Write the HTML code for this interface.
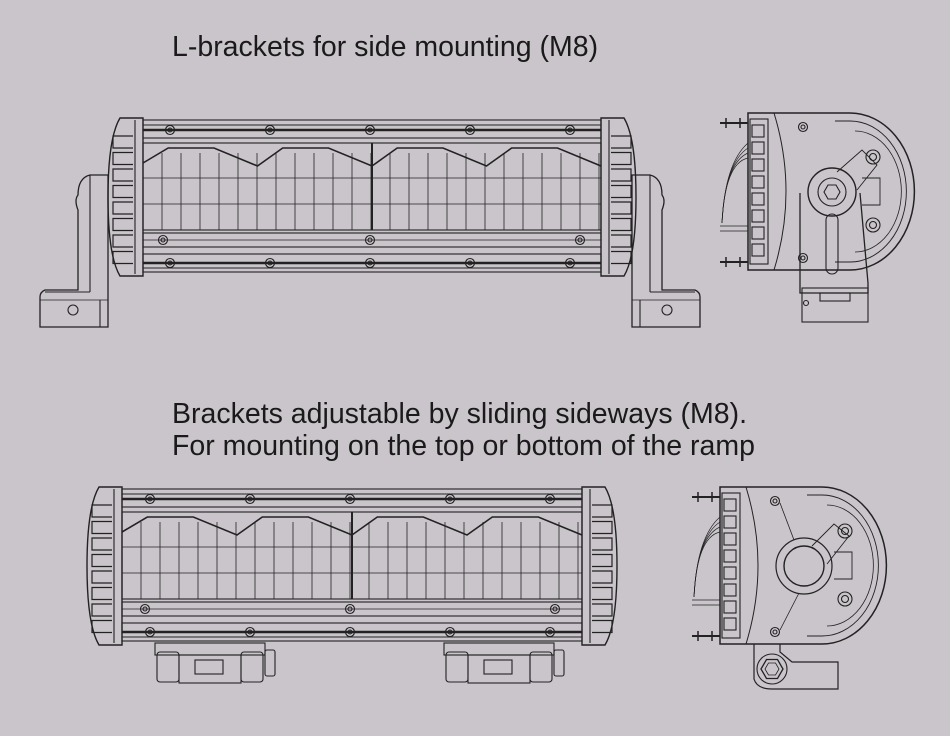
<!DOCTYPE html>
<html><head><meta charset="utf-8"><style>
html,body{margin:0;padding:0;background:#cac5ca;width:950px;height:736px;overflow:hidden}
.t{position:absolute;left:172px;font-family:"Liberation Sans",sans-serif;font-size:28.5px;color:#1a1a1a;white-space:nowrap}
svg{position:absolute;left:0;top:0}
</style></head><body>
<div class="t" style="top:31px">L-brackets for side mounting (M8)</div>
<div class="t" style="top:398px">Brackets adjustable by sliding sideways (M8).</div>
<div class="t" style="top:430px">For mounting on the top or bottom of the ramp</div>
<svg id="s" width="950" height="736" viewBox="0 0 950 736" fill="none" stroke="#222" stroke-width="1.1"></svg>
<script>
var S=document.getElementById('s'),h='';
function L(x1,y1,x2,y2,w){h+='<line x1="'+x1+'" y1="'+y1+'" x2="'+x2+'" y2="'+y2+'"'+(w?' stroke-width="'+w+'"':'')+'/>';}
function R(x,y,w,hh,r){h+='<rect x="'+x+'" y="'+y+'" width="'+w+'" height="'+hh+'"'+(r?' rx="'+r+'"':'')+'/>';}
function C(x,y,r,w){h+='<circle cx="'+x+'" cy="'+y+'" r="'+r+'"'+(w?' stroke-width="'+w+'"':'')+'/>';}
function P(d,w){h+='<path d="'+d+'"'+(w?' stroke-width="'+w+'"':'')+'/>';}
function scr(x,y){C(x,y,4.5);C(x,y,2);}
function cap(xo,y0,dir){
  var xe=xo-dir*35;
  P('M'+xo+' '+y0+' H'+(xe+dir*12)+' Q'+(xe)+' '+(y0+20)+' '+xe+' '+(y0+79)+' Q'+xe+' '+(y0+138)+' '+(xe+dir*12)+' '+(y0+158)+' H'+xo+' Z',1.4);
  L(xo-dir*8,y0+2,xo-dir*8,y0+156);
  for(var i=0;i<8;i++){var fy=y0+18+i*16.5;
    P('M'+(xo-dir*10)+' '+fy+' H'+(xe+dir*5)+' V'+(fy+12)+' H'+(xo-dir*10),1.2);}
}
function bar(x0,x1,y0,scrs,lscr){
  cap(x0,y0,1);cap(x1,y0,-1);
  R(x0,y0+2,x1-x0,18);L(x0,y0+7,x1,y0+7);L(x0,y0+12,x1,y0+12,2.4);
  scrs.forEach(function(x){scr(x,y0+12);});
  R(x0,y0+25,x1-x0,87,0);
  var mid=(x0+x1)/2,q=(x1-x0)/4;
  var d='M'+x0+' '+(y0+45);
  for(var k=0;k<4;k++){var a=x0+k*q;
    d+=' L'+(a+q*0.22)+' '+(y0+30)+' L'+(a+q*0.62)+' '+(y0+30)+' L'+(a+q)+' '+(y0+48);}
  P(d,1.6);
  L(mid,y0+25,mid,y0+112,2);
  for(var x=x0+19;x<x1;x+=19)L(x,y0+35,x,y0+112,0.8);
  L(x0,y0+60,x1,y0+60,0.7);L(x0,y0+86,x1,y0+86,0.7);
  R(x0,y0+115,x1-x0,14);L(x0,y0+122,x1,y0+122,0.7);
  lscr.forEach(function(x){scr(x,y0+122);});
  R(x0,y0+136,x1-x0,18);L(x0,y0+145,x1,y0+145,2.4);L(x0,y0+150,x1,y0+150);
  scrs.forEach(function(x){scr(x,y0+145);});
}
bar(143,601,118,[170,270,370,470,570],[163,370,580]);
P('M108 175 H90 Q78 178 78 195 Q74 200 78 210 V290 H45 Q40 292 40 297 V327 H108 Z',1.3);
L(90,175,90,292);L(45,292,90,292);L(40,300,108,300,0.7);C(73,310,5);L(100,300,100,327);
P('M632 175 H650 Q662 178 662 195 Q666 200 662 210 V290 H695 Q700 292 700 297 V327 H632 Z',1.3);
L(650,175,650,292);L(695,292,650,292);L(700,300,632,300,0.7);C(667,310,5);L(640,300,640,327);
bar(122,582,487,[150,250,350,450,550],[145,350,555]);
function sb(x){R(x,643,110,12);R(x+2,652,22,30,3);R(x+86,652,22,30,3);R(x+24,655,62,28);R(x+40,660,28,14);R(x+110,650,10,26,2);}
sb(155);sb(444);
function side(x0,y0,top){
  var H=157;
  [y0+10,y0+H-8].forEach(function(y){L(x0,y,x0+28,y,2);L(x0+6,y-5,x0+6,y+5,1.5);L(x0+20,y-5,x0+20,y+5,1.5);});
  for(var r=20;r<60;r+=10)P('M'+(x0+28)+' '+(y0+20+r*0.5)+' Q'+(x0+5)+' '+(y0+50)+' '+(x0+2)+' '+(y0+110),0.7);
  L(x0,y0+113,x0+28,y0+113,0.8);L(x0,y0+118,x0+28,y0+118,0.8);
  var bx=x0+28,cx=x0+130;
  P('M'+bx+' '+y0+' H'+cx+' A64 78 0 0 1 '+cx+' '+(y0+H)+' H'+bx+' Z',1.5);
  P('M'+(cx-15)+' '+(y0+8)+' H'+cx+' A56 70 0 0 1 '+cx+' '+(y0+H-8)+' H'+(cx-15),0.9);
  P('M'+(cx+5)+' '+(y0+18)+' A46 60 0 0 1 '+(cx+5)+' '+(y0+H-18),0.8);
  R(bx+2,y0+6,18,H-12);
  for(var i=0;i<8;i++)R(bx+4,y0+12+i*17,12,12);
  P('M'+(bx+26)+' '+y0+' Q'+(bx+50)+' '+(y0+H/2)+' '+(bx+26)+' '+(y0+H),1);
  scr(x0+83,y0+14);scr(x0+83,y0+H-12);
  C(x0+153,y0+44,7);C(x0+153,y0+44,3.5);C(x0+153,y0+112,7);C(x0+153,y0+112,3.5);
  P('M'+(cx+12)+' '+(y0+65)+' H'+(cx+30)+' V'+(y0+92)+' H'+(cx+12),0.9);
  var bcx=x0+112,bcy=y0+79;
  if(top){
    P('M'+(x0+80)+' '+(y0+80)+' V'+(y0+180)+' H'+(x0+148)+' V'+(y0+170)+' L'+(x0+140)+' '+(y0+80),1.3);
    R(x0+82,y0+175,66,34);R(x0+100,y0+180,30,8);C(x0+86,y0+190,2.5);
    R(bcx-6,bcy+22,12,60,6);
    C(bcx,bcy,24,1.4);C(bcx,bcy,14);
    P('M'+(bcx-8)+' '+bcy+' l4 -7 h8 l4 7 l-4 7 h-8 z');
    P('M'+(bcx+5)+' '+(bcy-20)+' l25 -22 l15 15 l-20 25',0.9);
  } else {
    C(bcx,bcy,28,1.2);C(bcx,bcy,20,1.4);
    P('M'+(bcx+8)+' '+(bcy-20)+' l22 -22 l15 12 l-22 28',0.9);
    L(x0+88,y0+16,bcx-10,bcy-26,0.8);L(x0+88,y0+H-14,bcx-5,bcy+27,0.8);
    P('M'+(x0+62)+' '+(y0+H)+' V'+(y0+H+35)+' Q'+(x0+65)+' '+(y0+H+45)+' '+(x0+80)+' '+(y0+H+45)+' H'+(x0+146)+' V'+(y0+H+18)+' H'+(x0+100)+' L'+(x0+88)+' '+(y0+H+8)+' V'+(y0+H),1.2);
    var hx=x0+80,hy=y0+H+25;C(hx,hy,15);
    P('M'+(hx-11)+' '+hy+' l5.5 -9.5 h11 l5.5 9.5 l-5.5 9.5 h-11 z',1.3);
    P('M'+(hx-7)+' '+hy+' l3.5 -6 h7 l3.5 6 l-3.5 6 h-7 z',0.8);
  }
}
side(720,113,true);side(692,487,false);
S.innerHTML=h;
</script>
</body></html>
